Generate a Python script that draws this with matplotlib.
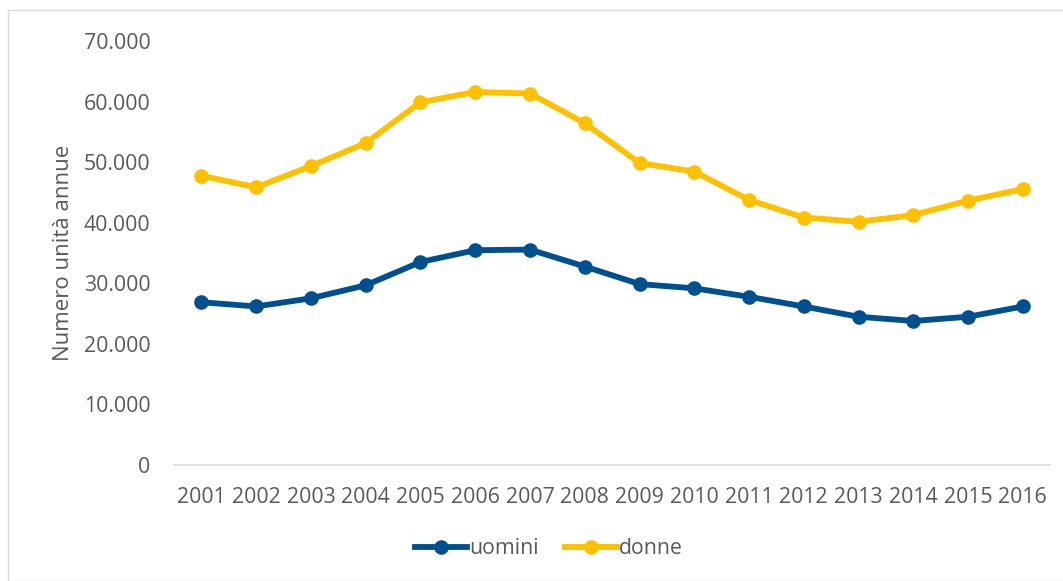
import matplotlib.pyplot as plt
from matplotlib.patches import Rectangle
from matplotlib.ticker import FuncFormatter

plt.rcParams['font.family'] = ['Open Sans', 'DejaVu Sans']

years = [str(y) for y in range(2001, 2017)]
uomini = [26900, 26200, 27550, 29700, 33550, 35500, 35600, 32800,
          29900, 29200, 27800, 26200, 24500, 23800, 24500, 26200]
donne = [47800, 45900, 49400, 53200, 59950, 61650, 61400, 56500,
         49900, 48500, 43800, 40900, 40200, 41300, 43700, 45600]

grey = '#595959'
fig = plt.figure(figsize=(10.63, 5.81), dpi=100)
ax = fig.add_axes([0.1637, 0.1997, 0.8243, 0.7289])

x = range(len(years))
ax.plot(x, uomini, color='#00508F', lw=4.2, marker='o', ms=9.5, label='uomini', clip_on=False)
ax.plot(x, donne, color='#FFC000', lw=4.2, marker='o', ms=9.5, label='donne', clip_on=False)

ax.set_xlim(-0.5, len(years) - 0.5)
ax.set_ylim(0, 70000)
ax.set_yticks(range(0, 70001, 10000))
ax.yaxis.set_major_formatter(FuncFormatter(lambda v, p: f'{int(v):,}'.replace(',', '.')))
ax.set_xticks(list(x))
ax.set_xticklabels(years)
ax.tick_params(length=0, labelsize=15.3, labelcolor=grey)
ax.tick_params(axis='y', pad=17)
ax.tick_params(axis='x', pad=16)
for s in ['top', 'right', 'left']:
    ax.spines[s].set_visible(False)
ax.spines['bottom'].set_color('#D9D9D9')
ax.spines['bottom'].set_linewidth(1.2)
ax.set_ylabel('Numero unità annue', fontsize=16, color=grey, labelpad=7)

fig.legend(loc='center', bbox_to_anchor=(549 / 1063, 1 - 549 / 581), ncol=2, frameon=False,
           fontsize=15.3, labelcolor=grey, handlelength=2.45, columnspacing=1.2, handletextpad=0.1)

fig.patches.append(Rectangle((8 / 1063, 0), 1, 1 - 10 / 581, transform=fig.transFigure,
                             fill=False, edgecolor='#D9D9D9', lw=1))

fig.savefig('out.png', dpi=100)
